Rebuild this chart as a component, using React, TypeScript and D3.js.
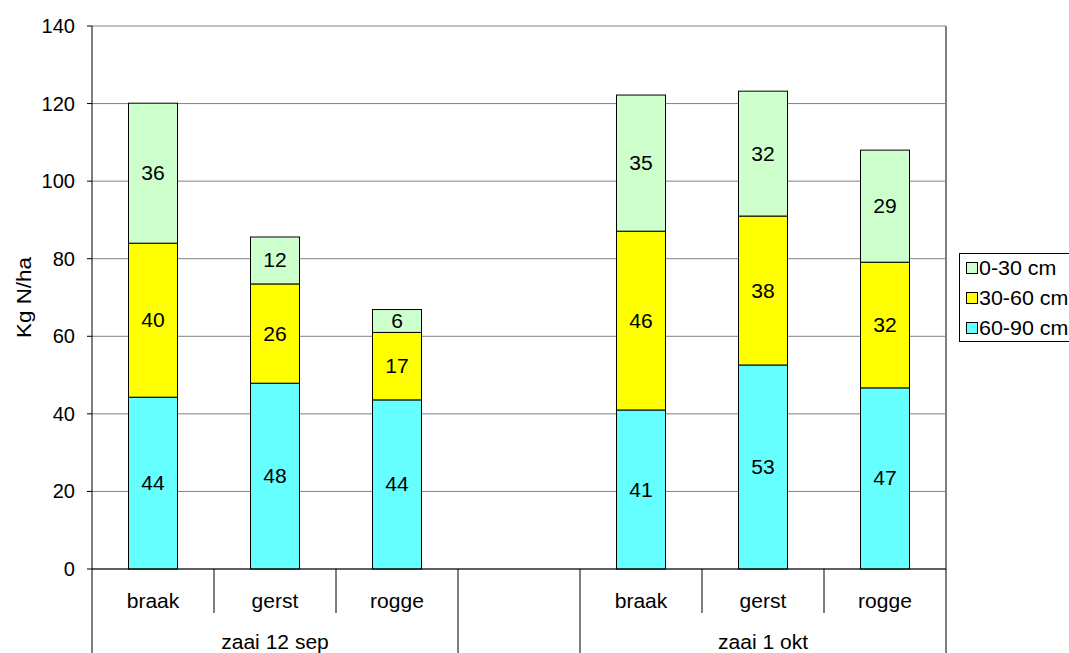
import React from "react";
import * as d3 from "d3";

const categories = ["braak", "gerst", "rogge", "", "braak", "gerst", "rogge"];
const groups = [
  { label: "zaai 12 sep", from: 0, to: 3 },
  { label: "zaai 1 okt", from: 4, to: 7 },
];
const seriesNames = ["60-90 cm", "30-60 cm", "0-30 cm"];
const seriesColors = ["#66FFFF", "#FFFF00", "#CCFFCC"];
const s6090: (number | null)[] = [44.3, 47.9, 43.6, null, 41.0, 52.6, 46.7];
const s3060: (number | null)[] = [39.7, 25.6, 17.4, null, 46.1, 38.4, 32.4];
const s0030: (number | null)[] = [36.1, 12.1, 5.9, null, 35.1, 32.2, 28.9];
const yTicks = [0, 20, 40, 60, 80, 100, 120, 140];

const W = 1069;
const H = 653;
const left = 92;
const right = 946;
const top = 26;
const bottom = 569;
const FONT = "Liberation Sans, Arial, sans-serif";
const FS = 19.5;

function T({ x, y, anchor = "middle", sx = 1.08, dy = "0.36em", children, size = FS }: any) {
  return (
    <text
      transform={`translate(${x},${y}) scale(${sx},1)`}
      dy={dy}
      textAnchor={anchor}
      fontSize={size}
      fill="#000"
    >
      {children}
    </text>
  );
}

export default function App() {
  const x = d3.scaleBand<number>().domain(d3.range(categories.length)).range([left, right]).padding(0);
  const y = d3.scaleLinear().domain([0, 140]).range([bottom, top]);
  const series = [s6090, s3060, s0030];
  const barW = 49;

  const rows = categories.map((c, i) => ({ i, a: s6090[i] ?? 0, b: s3060[i] ?? 0, c: s0030[i] ?? 0 }));
  const stack = d3.stack<any>().keys(["a", "b", "c"])(rows);
  const fmt = d3.format(".0f");

  const bounds = d3.range(categories.length + 1).map((k) => left + k * x.bandwidth());
  const groupEdges = new Set<number>();
  groups.forEach((g) => {
    groupEdges.add(g.from);
    groupEdges.add(g.to);
  });

  return (
    <svg width={W} height={H} style={{ position: "absolute", left: 0, top: 0, background: "#fff" }} fontFamily={FONT}>
      <rect x={0} y={0} width={W} height={H} fill="#fff" />
      {yTicks.map((t) => (
        <line key={t} x1={left} x2={right} y1={y(t)} y2={y(t)} stroke="#808080" strokeWidth={1} />
      ))}
      <line x1={right} x2={right} y1={top} y2={bottom} stroke="#808080" strokeWidth={2} />
      {stack.map((layer, si) =>
        layer.map((d, i) => {
          const v = series[si][i];
          if (v == null) return null;
          const cx = (x(i) as number) + x.bandwidth() / 2;
          const y0 = y(d[0]);
          const y1 = y(d[1]);
          return (
            <g key={`${si}-${i}`}>
              <rect x={cx - barW / 2} y={y1} width={barW} height={y0 - y1} fill={seriesColors[si]} stroke="#000" strokeWidth={1} />
              <T x={cx} y={(y0 + y1) / 2}>{fmt(v)}</T>
            </g>
          );
        })
      )}
      <line x1={left} x2={left} y1={top} y2={bottom} stroke="#000" strokeWidth={1} />
      {yTicks.map((t) => (
        <g key={`yt${t}`}>
          <line x1={left - 5} x2={left} y1={y(t)} y2={y(t)} stroke="#000" />
          <T x={left - 17} y={y(t)} anchor="end" sx={1.03}>{t}</T>
        </g>
      ))}
      <text transform={`translate(24, ${(top + bottom) / 2}) rotate(-90) scale(1.15,1)`} dy="0.36em" textAnchor="middle" fontSize={FS} fill="#000">
        Kg N/ha
      </text>
      <line x1={left} x2={right} y1={bottom} y2={bottom} stroke="#000" strokeWidth={1} />
      {bounds.map((bx, k) => {
        const full = groupEdges.has(k);
        return <line key={`b${k}`} x1={bx} x2={bx} y1={bottom} y2={full ? H : 613} stroke="#000" strokeWidth={1} />;
      })}
      {categories.map((c, i) => (
        <T key={`c${i}`} x={(x(i) as number) + x.bandwidth() / 2} y={601}>{c}</T>
      ))}
      {groups.map((g) => (
        <T key={g.label} x={(bounds[g.from] + bounds[g.to]) / 2} y={642}>{g.label}</T>
      ))}
      <rect x={959.5} y={253.5} width={130} height={88} fill="#fff" stroke="#000" strokeWidth={1} />
      {[2, 1, 0].map((si, k) => {
        const cy = 268 + k * 30;
        return (
          <g key={`l${si}`}>
            <rect x={966.5} y={cy - 5.5} width={11} height={11} fill={seriesColors[si]} stroke="#000" strokeWidth={1} />
            <T x={979} y={cy} anchor="start" sx={1.1}>{seriesNames[si]}</T>
          </g>
        );
      })}
    </svg>
  );
}
